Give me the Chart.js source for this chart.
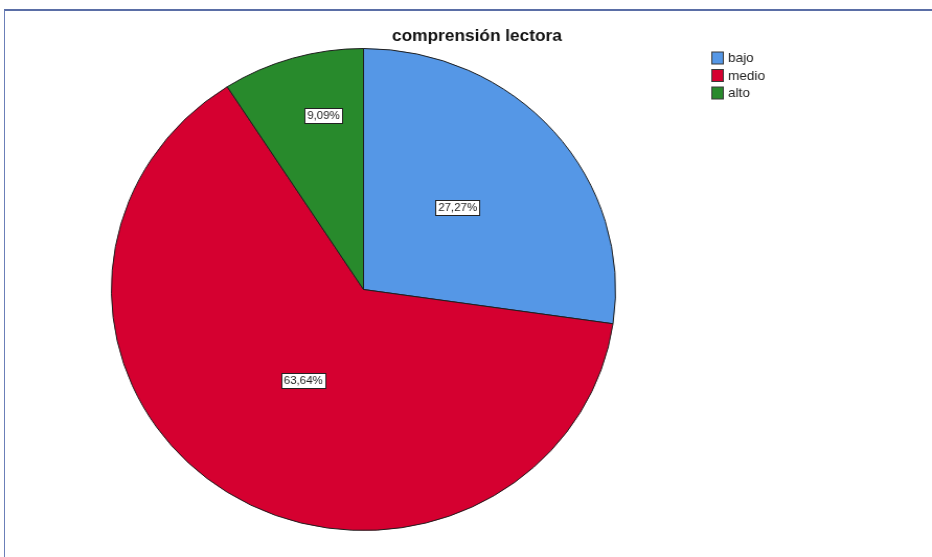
<!DOCTYPE html>
<html>
<head>
<meta charset="utf-8">
<script src="https://cdn.jsdelivr.net/npm/chart.js@4.4.1/dist/chart.umd.min.js"></script>
<style>
  html, body { margin: 0; padding: 0; background: #ffffff; overflow: hidden; }
  #frame { position: absolute; left: 4px; top: 9px; width: 960px; height: 600px;
           border-top: 2px solid #5a6ea6; border-left: 1.5px solid #6b7fb8; box-sizing: border-box; }
  #wrap { position: absolute; left: 0; top: 0; width: 891px; height: 557px;
          transform: scaleX(1.046); transform-origin: 0 0; }
</style>
</head>
<body>
<div id="frame"></div>
<div id="wrap"><canvas id="c"></canvas></div>
<script>
const chartTitle = 'comprensión lectora';
const categories = ['bajo', 'medio', 'alto'];
const percentages = [27.27, 63.64, 9.09];
const sliceColors = ['#5597e6', '#d50030', '#288a2c'];

function fmt(v) { return v.toFixed(2).replace('.', ',') + '%'; }

const decorPlugin = {
  id: 'decor',
  afterDraw(chart) {
    const ctx = chart.ctx;
    ctx.save();
    // title
    ctx.fillStyle = '#111';
    ctx.font = 'bold 16.5px "Liberation Sans", Arial, sans-serif';
    ctx.textAlign = 'center';
    ctx.textBaseline = 'middle';
    ctx.fillText(chartTitle, 456, 36);

    // slice labels
    const meta = chart.getDatasetMeta(0);
    const fracs = [0.506, 0.448, 0.741];
    const offs = [-1.5, -0.5, 4];
    ctx.font = '11px "Liberation Sans", Arial, sans-serif';
    meta.data.forEach((el, i) => {
      const p = el.getProps(['x', 'y', 'startAngle', 'endAngle', 'outerRadius'], true);
      const mid = (p.startAngle + p.endAngle) / 2 + offs[i] * Math.PI / 180;
      const r = p.outerRadius * fracs[i];
      const px = p.x + Math.cos(mid) * r;
      const py = p.y + Math.sin(mid) * r;
      const txt = fmt(chart.data.datasets[0].data[i]);
      const w = ctx.measureText(txt).width + 5;
      const h = 15;
      ctx.fillStyle = '#ffffff';
      ctx.fillRect(Math.round(px - w / 2) + 0.5, Math.round(py - h / 2) + 0.5, Math.round(w), h);
      ctx.strokeStyle = '#222';
      ctx.lineWidth = 1;
      ctx.strokeRect(Math.round(px - w / 2) + 0.5, Math.round(py - h / 2) + 0.5, Math.round(w), h);
      ctx.fillStyle = '#222';
      ctx.textAlign = 'center';
      ctx.textBaseline = 'middle';
      ctx.fillText(txt, px, py + 0.5);
    });

    // legend
    ctx.font = '13px "Liberation Sans", Arial, sans-serif';
    ctx.textAlign = 'left';
    ctx.textBaseline = 'middle';
    chart.data.labels.forEach((lab, i) => {
      const bx = 680, by = 51.5 + i * 17.5;
      ctx.fillStyle = chart.data.datasets[0].backgroundColor[i];
      ctx.fillRect(bx + 0.5, by + 0.5, 11, 12);
      ctx.strokeStyle = '#3a3a3a';
      ctx.lineWidth = 1;
      ctx.strokeRect(bx + 0.5, by + 0.5, 11, 12);
      ctx.fillStyle = '#222';
      ctx.fillText(lab, 696, by + 7);
    });
    ctx.restore();
  }
};

new Chart(document.getElementById('c'), {
  type: 'pie',
  data: {
    labels: categories,
    datasets: [{
      data: percentages,
      backgroundColor: sliceColors,
      borderColor: '#1e1e1e',
      borderWidth: 1
    }]
  },
  options: {
    responsive: true,
    maintainAspectRatio: false,
    animation: false,
    layout: { padding: { left: 106, top: 48, right: 302, bottom: 26 } },
    plugins: {
      legend: { display: false },
      title: { display: false },
      tooltip: { enabled: false }
    }
  },
  plugins: [decorPlugin]
});
</script>
</body>
</html>
